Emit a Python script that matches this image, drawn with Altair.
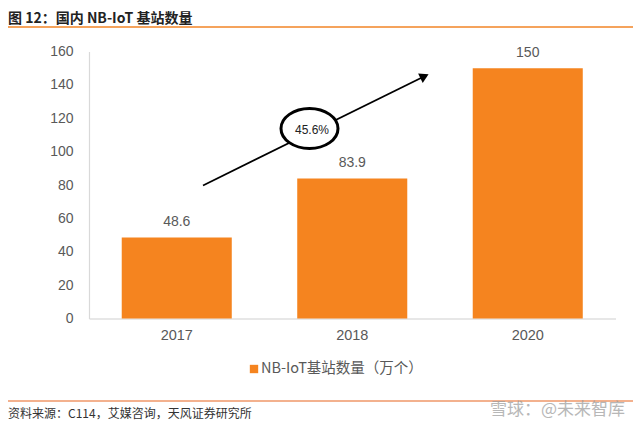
import altair as alt
import pandas as pd

years = ["2017", "2018", "2020"]
values = [48.6, 83.9, 150]
y_ticks = [0, 20, 40, 60, 80, 100, 120, 140, 160]
title_text = "图 12：国内 NB-IoT 基站数量"
legend_text = "NB-IoT基站数量（万个）"
source_text = "资料来源：C114，艾媒咨询，天风证券研究所"
growth_text = "45.6%"
watermark_text = "雪球：@未来智库"

BAR = "#F5841F"
CJK = "Noto Sans CJK SC"
NUM = "Liberation Sans"

W, H = 526.5, 267
PAD_L, PAD_T = 81, 43.5
PAD_R = 625 - PAD_L - W
PAD_B = 412 - PAD_T - H

df = pd.DataFrame({"year": years, "value": values})

x = alt.X("year:N", sort=years, title=None,
          scale=alt.Scale(paddingInner=0.373, paddingOuter=0.1865),
          axis=alt.Axis(labelAngle=0, labelFont=NUM, labelFontSize=14.5,
                        labelColor="#595959", labelPadding=10, ticks=False,
                        domainColor="#d0d0d0", domainWidth=1.2))
y = alt.Y("value:Q", title=None,
          scale=alt.Scale(domain=[0, 160], nice=False),
          axis=alt.Axis(values=y_ticks, labelFont=NUM, labelFontSize=14,
                        labelColor="#595959", labelPadding=16, ticks=False,
                        labelOverlap=False, labelFlush=False,
                        grid=False, domainColor="#d9d9d9", domainWidth=1.2))

bars = alt.Chart(df).mark_bar(color=BAR).encode(x=x, y=y)
labels = alt.Chart(df).mark_text(font=NUM, fontSize=14, color="#595959",
                                 baseline="middle", dy=-15.5).encode(
    x=x, y=y, text="value:N")

def txt(s):
    return alt.Chart(pd.DataFrame({"t": [s]}))

title = txt(title_text).mark_text(font=CJK, fontSize=14, fontWeight="bold",
                                  color="#222222", align="left", baseline="middle").encode(
    x=alt.value(-81), y=alt.value(-32.5), text="t:N")

top_rule = alt.Chart(pd.DataFrame({"t": [0]})).mark_rule(color="#F5A35C", strokeWidth=2).encode(
    x=alt.value(-81), x2=alt.value(544), y=alt.value(-24.5))
bot_rule = alt.Chart(pd.DataFrame({"t": [0]})).mark_rule(color="#E8641E", strokeWidth=1.2).encode(
    x=alt.value(-81), x2=alt.value(544), y=alt.value(349.5))

source = txt(source_text).mark_text(font=CJK, fontSize=12, color="#333333",
                                    align="left", baseline="middle").encode(
    x=alt.value(-81), y=alt.value(362.5), text="t:N")

watermark = txt(watermark_text).mark_text(font=CJK, fontSize=17, color="#9a9a9a",
                                          opacity=0.7, align="left", baseline="middle").encode(
    x=alt.value(401), y=alt.value(358.5), text="t:N")

leg_sq = alt.Chart(pd.DataFrame({"t": [0]})).mark_square(color=BAR, opacity=1, size=70).encode(
    x=alt.value(165), y=alt.value(317.5))
leg_txt = txt(legend_text).mark_text(font=CJK, fontSize=14.5, color="#595959",
                                     align="left", baseline="middle").encode(
    x=alt.value(172), y=alt.value(317.5), text="t:N")

arrow_line = alt.Chart(pd.DataFrame({"t": [0]})).mark_rule(color="#000000", strokeWidth=1.8).encode(
    x=alt.value(114), x2=alt.value(334), y=alt.value(134), y2=alt.value(25.5))
arrow_head = alt.Chart(pd.DataFrame({"t": [0]})).mark_point(
    shape="triangle-up", filled=True, color="#000000", opacity=1, size=110, angle=64).encode(
    x=alt.value(335.5), y=alt.value(24.8))

ellipse = alt.Chart(pd.DataFrame({"t": [0]})).mark_point(
    shape="M-1,0 A1,0.7 0 1,1 1,0 A1,0.7 0 1,1 -1,0 Z",
    filled=False, fill="#ffffff", fillOpacity=1, stroke="#000000", strokeWidth=3,
    opacity=1, size=3249).encode(x=alt.value(220.5), y=alt.value(77))
growth = txt(growth_text).mark_text(font=NUM, fontSize=12, color="#222222",
                                    align="center", baseline="middle").encode(
    x=alt.value(223), y=alt.value(78), text="t:N")

chart = alt.layer(bars, labels, title, top_rule, bot_rule, source, watermark,
                  leg_sq, leg_txt, arrow_line, arrow_head, ellipse, growth).properties(
    width=W, height=H,
    autosize=alt.AutoSizeParams(type="none"),
    padding={"left": PAD_L, "top": PAD_T, "right": PAD_R, "bottom": PAD_B},
    background="#ffffff",
).configure_view(stroke=None)

chart.save("out.html", embed_options={"renderer": "svg", "actions": False})
